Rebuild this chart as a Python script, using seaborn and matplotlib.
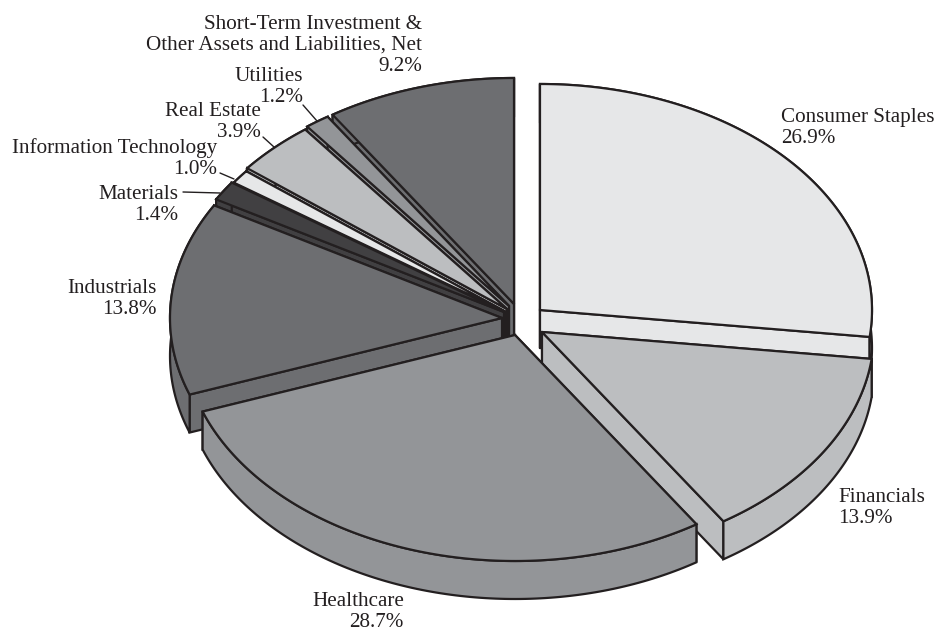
import numpy as np
import seaborn as sns
import matplotlib.pyplot as plt
from matplotlib.patches import Polygon

sectors = ['Consumer Staples', 'Financials', 'Healthcare', 'Industrials', 'Materials',
           'Information Technology', 'Real Estate', 'Utilities',
           'Short-Term Investment &\nOther Assets and Liabilities, Net']
weights = [26.9, 13.9, 28.7, 13.8, 1.4, 1.0, 3.9, 1.2, 9.2]

# tonos de gris de cada porcion
colores = ['#e6e7e8', '#bcbec0', '#939598', '#6d6e71', '#414042',
           '#e6e7e8', '#bcbec0', '#939598', '#6d6e71']

# vertice de cada porcion (ya con el desplazamiento del "explode")
vertices = [(540, 310), (542, 332), (515, 335), (502, 318), (504, 312),
            (506, 312), (507, 309), (509, 306), (514, 304)]
# etiquetas: x, linea base de la primera linea, alineacion
pos_etiquetas = [(781, 122, 'left'), (838, 502, 'left'), (404, 606, 'right'),
                 (157, 293, 'right'), (178, 199, 'right'), (217, 153, 'right'),
                 (261, 116, 'right'), (303, 81, 'right'), (422, 29, 'right')]
guias = [((303, 105), (317, 121)), ((263, 137), (274, 147)),
         ((220, 173), (234, 179)), ((183, 192), (220, 193))]

RADIO_X, RADIO_Y, GROSOR = 332, 226, 38
PASO_LINEA = 21
NEGRO = '#231f20'

sns.set_theme(style='white')
plt.rcParams['font.family'] = ['Liberation Serif', 'DejaVu Sans']

fig, ax = plt.subplots(figsize=(9.38, 6.31), dpi=100)
ax.set_position([0, 0, 1, 1])
ax.set_xlim(0, 938)
ax.set_ylim(631, 0)
ax.axis('off')


def poligono(puntos, color, z):
    ax.add_patch(Polygon(puntos, closed=True, facecolor=color, edgecolor=NEGRO,
                         linewidth=1.6, joinstyle='miter', zorder=z))


def dibujar_porcion(i, ini, fin):
    cx, cy = vertices[i]
    ang = np.radians(np.linspace(ini, fin, 120))
    arco = np.column_stack([cx + RADIO_X * np.sin(ang), cy - RADIO_Y * np.cos(ang)])
    centro = np.array([cx, cy])
    abajo = np.array([0, GROSOR])
    color = colores[i]
    z = orden.index(i) * 2 + 1
    # primero los cortes (el de atras antes), luego el borde y al final la tapa
    atras, adelante = sorted([arco[0], arco[-1]], key=lambda p: p[1])
    poligono([centro, atras, atras + abajo, centro + abajo], color, z)
    poligono([centro, adelante, adelante + abajo, centro + abajo], color, z)
    poligono(np.vstack([arco, (arco + abajo)[::-1]]), color, z)
    poligono(np.vstack([centro, arco]), color, z + 1)


# de atras hacia adelante
orden = [8, 7, 6, 5, 4, 0, 3, 1, 2]
limites = np.cumsum([0] + weights) / sum(weights) * 360
for i in orden:
    dibujar_porcion(i, limites[i], limites[i + 1])

for nombre, valor, (x, y, ha) in zip(sectors, weights, pos_etiquetas):
    lineas = nombre.split('\n') + [f'{valor:.1f}%']
    for k, linea in enumerate(lineas):
        ax.text(x, y + k * PASO_LINEA, linea, ha=ha, va='baseline',
                fontsize=15.2, color=NEGRO, zorder=40)

for (x0, y0), (x1, y1) in guias:
    ax.plot([x0, x1], [y0, y1], color=NEGRO, lw=1.0, zorder=40)

plt.savefig('out.png', dpi=100)
plt.close()
